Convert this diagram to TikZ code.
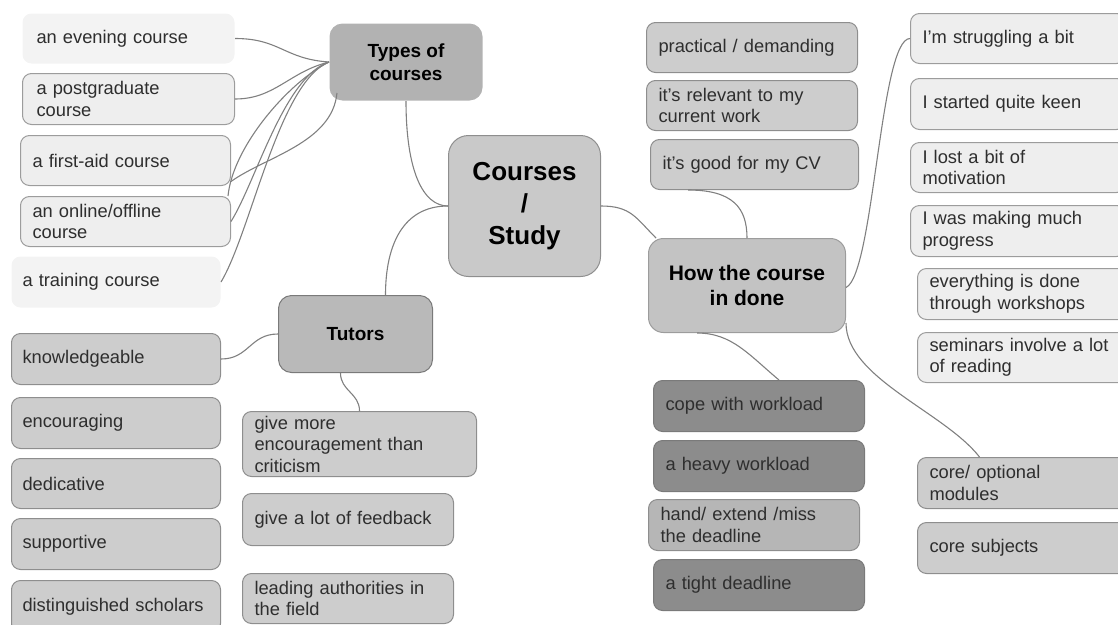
\documentclass[tikz,border=0pt]{standalone}
\usepackage{fontspec}
\setmainfont{Liberation Sans}
\definecolor{vl}{HTML}{F3F3F3}
\definecolor{lt}{HTML}{EEEEEE}
\definecolor{ltb}{HTML}{9C9C9C}
\definecolor{md}{HTML}{CDCDCD}
\definecolor{mdb}{HTML}{8E8E8E}
\definecolor{dk}{HTML}{8C8C8C}
\definecolor{dkb}{HTML}{7A7A7A}
\definecolor{hd}{HTML}{B6B6B6}
\definecolor{typesc}{HTML}{B2B2B2}
\definecolor{centc}{HTML}{C9C9C9}
\definecolor{howc}{HTML}{C3C3C3}
\definecolor{tutc}{HTML}{B9B9B9}
\definecolor{leaftext}{HTML}{2E2E2E}
\definecolor{connc}{HTML}{808080}
\tikzset{
  leaf/.style={rounded corners=9pt, anchor=north west, align=left, inner xsep=12pt, inner ysep=0pt,
    text=leaftext, font=\fontsize{18.3}{21.5}\selectfont, line width=1pt},
  vlight/.style={leaf, fill=vl},
  light/.style={leaf, fill=lt, draw=ltb},
  mid/.style={leaf, fill=md, draw=mdb},
  dark/.style={leaf, fill=dk, draw=dkb},
  handc/.style={leaf, fill=hd, draw=mdb},
  title/.style={anchor=north west, align=center, inner sep=0pt, text=black, line width=1pt},
  conn/.style={draw=connc, line width=1.1pt}
}
\begin{document}
\begin{tikzpicture}[x=1pt,y=-1pt]
\clip (0,0) rectangle (1118,624);
% ---------- main topics ----------
\node[title, rounded corners=13pt, fill=typesc, minimum width=153, minimum height=77,
  font=\bfseries\fontsize{19}{23}\selectfont] (types) at (329,23) {Types of\\courses};
\node[title, rounded corners=20pt, fill=centc, draw=mdb, minimum width=152, minimum height=141,
  font=\bfseries\fontsize{26}{32}\selectfont] (cs) at (448,135) {Courses\\/\\Study};
\node[title, rounded corners=15pt, fill=howc, draw=ltb, minimum width=197, minimum height=94,
  font=\bfseries\fontsize{21}{25}\selectfont] (how) at (648,238) {How the course\\in done};
\node[title, rounded corners=13pt, fill=tutc, draw=dkb, minimum width=154, minimum height=77,
  font=\bfseries\fontsize{19}{23}\selectfont] (tu) at (278,295) {Tutors};
% ---------- types of courses ----------
\node[vlight, minimum width=210, minimum height=50, text width=184pt, inner xsep=14pt] (ev) at (22,13) {an evening course};
\node[light, minimum width=212, minimum height=51, text width=184pt, inner xsep=14pt] (pg) at (22,73) {a postgraduate\\course};
\node[light, minimum width=210, minimum height=50, text width=186pt] (fa) at (20,135) {a first-aid course};
\node[light, minimum width=210, minimum height=50, text width=186pt] (on) at (20,196) {an online/offline\\course};
\node[vlight, minimum width=209, minimum height=51, text width=187pt, inner xsep=11pt] (tr) at (11,256) {a training course};
% ---------- tutors ----------
\node[mid, minimum width=209, minimum height=51, text width=187pt, inner xsep=11pt] (kn) at (11,333) {knowledgeable};
\node[mid, minimum width=209, minimum height=51, text width=187pt, inner xsep=11pt] (en) at (11,397) {encouraging};
\node[mid, minimum width=209, minimum height=50, text width=187pt, inner xsep=11pt] (de) at (11,458) {dedicative};
\node[mid, minimum width=209, minimum height=51, text width=187pt, inner xsep=11pt] (su) at (11,518) {supportive};
\node[mid, minimum width=209, minimum height=52, text width=187pt, inner xsep=11pt] (ds) at (11,580) {distinguished scholars};
\node[mid, minimum width=234, minimum height=65, text width=210pt] (gm) at (242,411) {give more\\encouragement than\\criticism};
\node[mid, minimum width=211, minimum height=52, text width=187pt] (fb) at (242,493) {give a lot of feedback};
\node[mid, minimum width=211, minimum height=50, text width=187pt] (la) at (242,573) {leading authorities in\\the field};
% ---------- right top ----------
\node[mid, minimum width=211, minimum height=50, text width=187pt] (pr) at (646,22) {practical / demanding};
\node[mid, minimum width=211, minimum height=50, text width=187pt] (rel) at (646,80) {it’s relevant to my\\current work};
\node[mid, minimum width=208, minimum height=50, text width=184pt] (cv) at (650,139) {it’s good for my CV};
% ---------- far right ----------
\node[light, minimum width=215, minimum height=50, text width=191pt] (st) at (910,13) {I’m struggling a bit};
\node[light, minimum width=215, minimum height=51, text width=191pt] (sk) at (910,78) {I started quite keen};
\node[light, minimum width=215, minimum height=50, text width=191pt] (lm) at (910,142) {I lost a bit of\\motivation};
\node[light, minimum width=215, minimum height=51, text width=191pt] (mp) at (910,205) {I was making much\\progress};
\node[light, minimum width=210, minimum height=51, text width=186pt] (ew) at (917,268) {everything is done\\through workshops};
\node[light, minimum width=210, minimum height=50, text width=186pt] (sr) at (917,332) {seminars involve a lot\\of reading};
% ---------- bottom middle ----------
\node[dark, minimum width=211, minimum height=51, text width=187pt] (cope) at (653,380) {cope with workload};
\node[dark, minimum width=211, minimum height=51, text width=187pt] (hw) at (653,440) {a heavy workload};
\node[handc, minimum width=211, minimum height=51, text width=187pt] (hand) at (648,499) {hand/ extend /miss\\the deadline};
\node[dark, minimum width=211, minimum height=51, text width=187pt] (td) at (653,559) {a tight deadline};
% ---------- bottom right ----------
\node[mid, minimum width=210, minimum height=51, text width=186pt] (core) at (917,457) {core/ optional\\modules};
\node[mid, minimum width=210, minimum height=51, text width=186pt] (csub) at (917,522) {core subjects};
% ---------- connectors ----------
\draw[conn] (ev.east) .. controls +(45,0) and +(-45,-3) .. (types.west);
\draw[conn] (pg.east) .. controls +(40,0) and +(-40,10) .. (types.west);
\draw[conn] ([xshift=8pt,yshift=8pt]types.south west) .. controls +(-5,50) and +(35,-25) .. ([yshift=-21pt]fa.east);
\draw[conn] (types.west) .. controls +(-45,15) and +(25,-40) .. (on.east);
\draw[conn] (types.west) .. controls +(-50,20) and +(30,-50) .. (tr.east);
\draw[conn] (types.west) .. controls +(-40,20) and +(5,-50) .. ([xshift=-3pt]on.north east);
\draw[conn] (types.south) .. controls +(0,70) and +(-25,0) .. (cs.west);
\draw[conn] (cs.west) .. controls +(-45,0) and +(0,-50) .. ([xshift=30pt]tu.north);
\draw[conn] (cs.east) .. controls +(30,0) and +(-20,-20) .. ([xshift=8pt]how.north west);
\draw[conn] ([xshift=38pt]cv.south west) .. controls +(45,0) and +(0,-30) .. (how.north);
\draw[conn] ([yshift=-2pt]how.east) .. controls +(28,-13) and +(-30,0) .. (st.west);
\draw[conn] ([xshift=-50pt]how.south) .. controls +(35,0) and +(-30,-25) .. ([xshift=20pt]cope.north);
\draw[conn] ([yshift=10pt]how.south east) .. controls +(0,55) and +(-35,-45) .. ([xshift=-43pt]core.north);
\draw[conn] (tu.west) .. controls +(-28,0) and +(28,0) .. (kn.east);
\draw[conn] ([xshift=-15pt]tu.south) .. controls +(0,18) and +(0,-18) .. (gm.north);
\end{tikzpicture}
\end{document}
